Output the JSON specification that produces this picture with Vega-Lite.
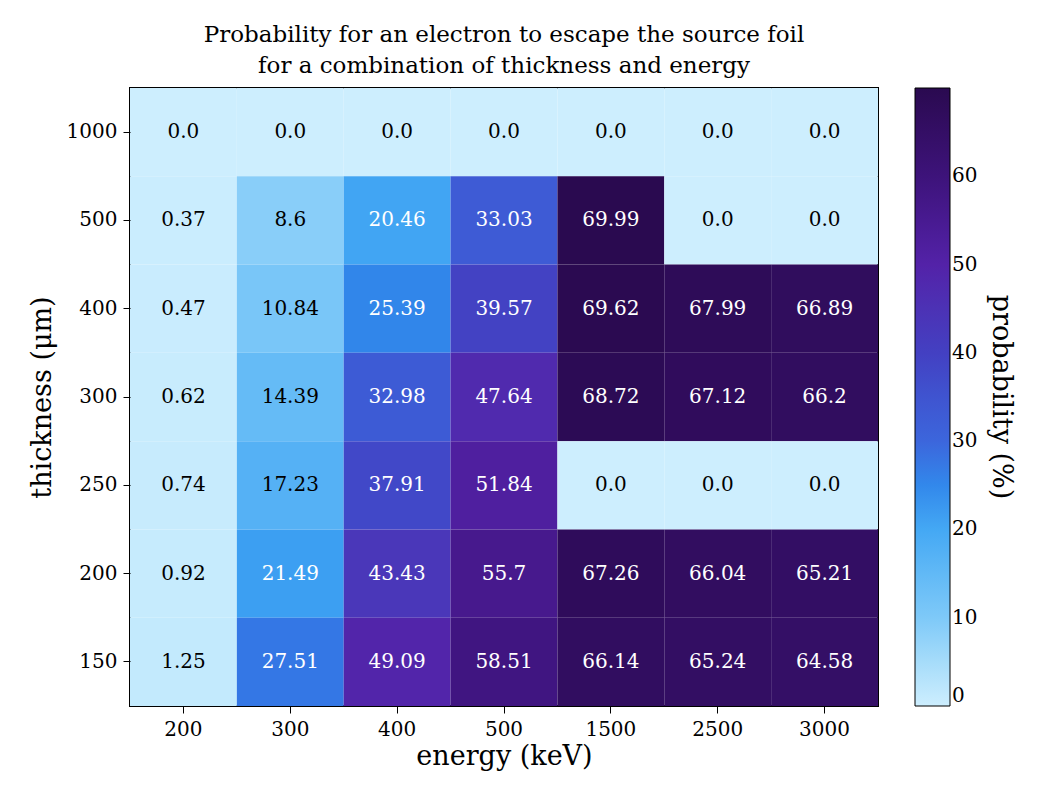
{
  "$schema": "https://vega.github.io/schema/vega-lite/v6.json",
  "width": 748,
  "height": 618,
  "autosize": "none",
  "padding": {"left": 130, "top": 88, "right": 162, "bottom": 94},
  "background": "white",
  "config": {
    "font": "DejaVu Serif",
    "view": {"stroke": "black", "strokeWidth": 2},
    "axis": {"labelFont": "DejaVu Serif", "titleFont": "DejaVu Serif", "labelFontSize": 20, "titleFontSize": 27, "titleFontWeight": "normal", "labelColor": "black", "titleColor": "black", "tickColor": "black", "tickSize": 7, "domain": false, "grid": false}
  },
  "title": {
    "text": ["Probability for an electron to escape the source foil", "for a combination of thickness and energy"],
    "fontSize": 23, "fontWeight": "normal", "font": "DejaVu Serif", "offset": 10, "lineHeight": 31, "color": "black"
  },
  "data": {"values": [
    {"e": "200", "t": "1000", "p": 0.0}, {"e": "300", "t": "1000", "p": 0.0}, {"e": "400", "t": "1000", "p": 0.0}, {"e": "500", "t": "1000", "p": 0.0}, {"e": "1500", "t": "1000", "p": 0.0}, {"e": "2500", "t": "1000", "p": 0.0}, {"e": "3000", "t": "1000", "p": 0.0},
    {"e": "200", "t": "500", "p": 0.37}, {"e": "300", "t": "500", "p": 8.6}, {"e": "400", "t": "500", "p": 20.46}, {"e": "500", "t": "500", "p": 33.03}, {"e": "1500", "t": "500", "p": 69.99}, {"e": "2500", "t": "500", "p": 0.0}, {"e": "3000", "t": "500", "p": 0.0},
    {"e": "200", "t": "400", "p": 0.47}, {"e": "300", "t": "400", "p": 10.84}, {"e": "400", "t": "400", "p": 25.39}, {"e": "500", "t": "400", "p": 39.57}, {"e": "1500", "t": "400", "p": 69.62}, {"e": "2500", "t": "400", "p": 67.99}, {"e": "3000", "t": "400", "p": 66.89},
    {"e": "200", "t": "300", "p": 0.62}, {"e": "300", "t": "300", "p": 14.39}, {"e": "400", "t": "300", "p": 32.98}, {"e": "500", "t": "300", "p": 47.64}, {"e": "1500", "t": "300", "p": 68.72}, {"e": "2500", "t": "300", "p": 67.12}, {"e": "3000", "t": "300", "p": 66.2},
    {"e": "200", "t": "250", "p": 0.74}, {"e": "300", "t": "250", "p": 17.23}, {"e": "400", "t": "250", "p": 37.91}, {"e": "500", "t": "250", "p": 51.84}, {"e": "1500", "t": "250", "p": 0.0}, {"e": "2500", "t": "250", "p": 0.0}, {"e": "3000", "t": "250", "p": 0.0},
    {"e": "200", "t": "200", "p": 0.92}, {"e": "300", "t": "200", "p": 21.49}, {"e": "400", "t": "200", "p": 43.43}, {"e": "500", "t": "200", "p": 55.7}, {"e": "1500", "t": "200", "p": 67.26}, {"e": "2500", "t": "200", "p": 66.04}, {"e": "3000", "t": "200", "p": 65.21},
    {"e": "200", "t": "150", "p": 1.25}, {"e": "300", "t": "150", "p": 27.51}, {"e": "400", "t": "150", "p": 49.09}, {"e": "500", "t": "150", "p": 58.51}, {"e": "1500", "t": "150", "p": 66.14}, {"e": "2500", "t": "150", "p": 65.24}, {"e": "3000", "t": "150", "p": 64.58}
  ]},
  "encoding": {
    "x": {"field": "e", "type": "ordinal", "sort": ["200", "300", "400", "500", "1500", "2500", "3000"], "title": "energy (keV)", "axis": {"labelAngle": 0, "labelPadding": 6, "titlePadding": 4}},
    "y": {"field": "t", "type": "ordinal", "sort": ["1000", "500", "400", "300", "250", "200", "150"], "title": "thickness (μm)", "axis": {"labelPadding": 6, "titlePadding": 10}}
  },
  "layer": [
    {
      "mark": {"type": "rect", "strokeWidth": 0},
      "encoding": {
        "color": {
          "field": "p", "type": "quantitative", "title": "probability (%)",
          "scale": {"domain": [0, 10, 20, 30, 40, 50, 60, 69.99], "range": ["#cdeefe", "#7ec9f8", "#44a8f4", "#3c66dc", "#4340c2", "#5322a8", "#3d137a", "#2a0a50"]},
          "legend": {"orient": "right", "offset": 37, "gradientLength": 618, "gradientThickness": 35, "values": [0, 10, 20, 30, 40, 50, 60], "labelFontSize": 20, "labelFont": "DejaVu Serif", "titleFont": "DejaVu Serif", "titleFontSize": 27, "titleFontWeight": "normal", "titleOrient": "right", "titleAngle": 270, "titleBaseline": "bottom", "titleAnchor": "middle", "titleLimit": 700, "titlePadding": 10, "labelColor": "black", "titleColor": "black", "gradientStrokeColor": "black", "gradientStrokeWidth": 1}
        }
      }
    },
    {
      "transform": [{"calculate": "datum.p == 0 ? '0.0' : format(datum.p, '')", "as": "lbl"}],
      "mark": {"type": "text", "fontSize": 20, "font": "DejaVu Serif"},
      "encoding": {
        "text": {"field": "lbl", "type": "nominal"},
        "color": {"condition": {"test": "datum.p > 20", "value": "white"}, "value": "black"}
      }
    }
  ]
}
